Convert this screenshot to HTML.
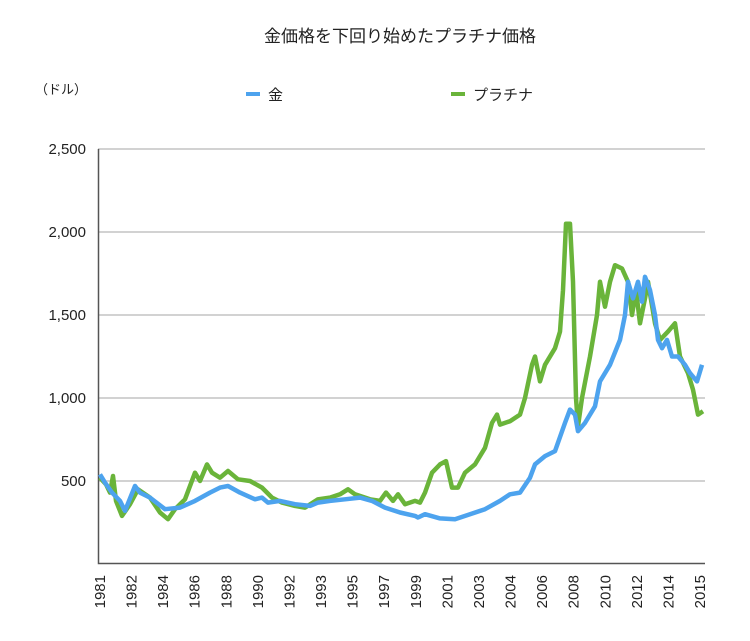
<!DOCTYPE html>
<html><head><meta charset="utf-8"><style>
body{margin:0;background:#fff;}
svg{display:block;font-family:"Liberation Sans","Noto Sans CJK JP",sans-serif;}
</style></head><body>
<svg id="chart" width="750" height="641">
<text x="400" y="42" text-anchor="middle" font-size="17" fill="#222">金価格を下回り始めたプラチナ価格</text>
<text x="35" y="94" font-size="13" fill="#222">（ドル）</text>
<g><rect x="246" y="92" width="14" height="4" fill="#4da3ee"/><text x="268" y="100" font-size="15" fill="#222">金</text></g>
<g><rect x="451" y="92" width="14" height="4" fill="#6ab43a"/><text x="473" y="100" font-size="15" fill="#222">プラチナ</text></g>
<g id="grid"></g><g id="series"></g><g id="xlabels"></g>
</svg>
<script>
const yTicks=[500,1000,1500,2000,2500];
const yTickLabels=["500","1,000","1,500","2,000","2,500"];
const categories=["1981","1982","1984","1986","1988","1990","1992","1993","1995","1997","1999","2001","2003","2004","2006","2008","2010","2012","2014","2015"];
// time positions (0..600 timeline units)
const goldT=[0,5,12,20,25,35,40,50,65,80,95,110,120,128,140,155,162,168,180,195,210,218,230,245,260,272,285,300,315,318,325,340,355,370,385,400,410,420,430,435,445,455,465,470,475,478,485,495,500,510,520,525,528,533,538,542,545,550,555,558,562,567,572,578,585,590,597,602];
const goldV=[540,490,430,380,320,470,430,400,330,340,380,430,460,470,430,390,400,370,380,360,350,370,380,390,400,380,340,310,290,280,300,275,270,300,330,380,420,430,520,600,650,680,850,930,900,800,850,950,1100,1200,1350,1500,1700,1600,1700,1580,1730,1650,1500,1350,1300,1350,1250,1250,1200,1150,1100,1200];
const platT=[0,6,10,13,16,22,30,38,50,60,68,75,85,95,100,107,112,120,128,138,150,162,172,182,195,205,218,230,240,248,255,270,280,286,293,298,305,315,320,325,332,340,346,352,358,365,375,385,392,397,400,410,420,425,432,435,440,445,455,460,463,466,470,473,476,478,482,490,497,500,505,510,515,522,528,532,536,540,545,548,555,560,568,575,580,588,593,598,603];
const platV=[520,480,430,530,380,290,360,450,400,310,270,330,390,550,500,600,550,520,560,510,500,460,400,370,350,340,390,400,420,450,420,390,380,430,380,420,360,380,370,430,550,600,620,460,460,550,600,700,850,900,840,860,900,1000,1200,1250,1100,1200,1300,1400,1650,2050,2050,1700,1000,830,1000,1250,1500,1700,1550,1700,1800,1780,1700,1500,1650,1450,1600,1700,1450,1350,1400,1450,1250,1150,1050,900,920];
const NS="http://www.w3.org/2000/svg";
const x0=100,x1=700,yBase=564,pxPer500=83;
function xScale(t){return x0+(t/600)*(x1-x0);}
function yScale(v){return yBase-v/500*pxPer500;}
function catX(i){return x0+i*(x1-x0)/(categories.length-1);}
const grid=document.getElementById('grid');
yTicks.forEach((v,i)=>{
 const l=document.createElementNS(NS,'line');
 
 
 l.setAttribute('x1',98);l.setAttribute('x2',705);l.setAttribute('y1',yScale(v));l.setAttribute('y2',yScale(v));
 l.setAttribute('stroke','#b8b8b8');l.setAttribute('stroke-width','1.2');grid.appendChild(l);
 const t=document.createElementNS(NS,'text');
 
 
 t.setAttribute('x',86);t.setAttribute('y',yScale(v)+5);t.setAttribute('text-anchor','end');t.setAttribute('font-size','15');t.setAttribute('fill','#222');
 t.textContent=yTickLabels[i];grid.appendChild(t);
});
const ax=document.createElementNS(NS,'path');


ax.setAttribute('d','M98.5 149 V563.5 H705');ax.setAttribute('stroke','#555');ax.setAttribute('fill','none');ax.setAttribute('stroke-width','1.5');grid.appendChild(ax);
function line(T,V,color,name){
 const n=Math.min(T.length,V.length);let d='';
 for(let i=0;i<n;i++)d+=(i?'L':'M')+xScale(T[i]).toFixed(1)+' '+yScale(V[i]).toFixed(1);
 const p=document.createElementNS(NS,'path');
 
 
 p.setAttribute('d',d);p.setAttribute('stroke',color);p.setAttribute('stroke-width','4.5');p.setAttribute('fill','none');p.setAttribute('stroke-linejoin','round');
 document.getElementById('series').appendChild(p);
}
line(platT,platV,'#6ab43a','platinum-line');
line(goldT,goldV,'#4da3ee','gold-line');
const xl=document.getElementById('xlabels');
categories.forEach((c,i)=>{
 const t=document.createElementNS(NS,'text');
 
 
 const x=catX(i)+5,y=575;
 t.setAttribute('transform','translate('+x+','+y+') rotate(-90)');
 t.setAttribute('text-anchor','end');t.setAttribute('font-size','15');t.setAttribute('fill','#222');
 t.textContent=c;xl.appendChild(t);
});
</script>
</body></html>
